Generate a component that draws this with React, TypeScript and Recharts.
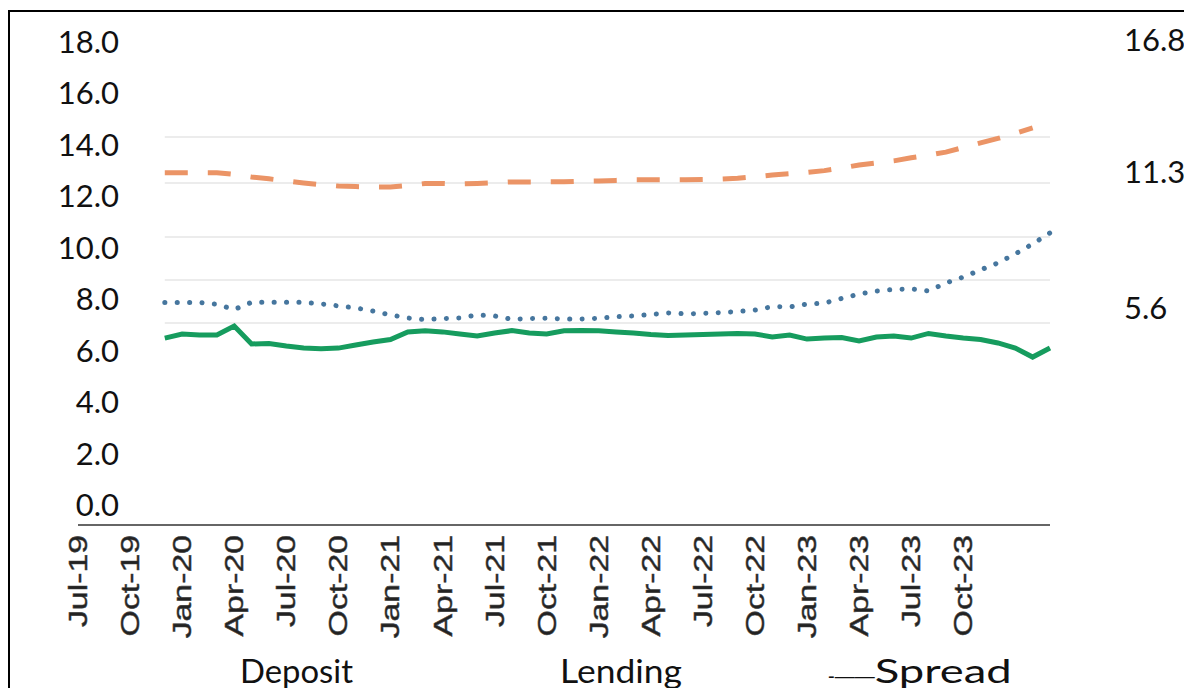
import { LineChart, Line, XAxis, YAxis, ReferenceLine } from 'recharts'

const months = [
  'Jul-19', 'Aug-19', 'Sep-19', 'Oct-19', 'Nov-19', 'Dec-19',
  'Jan-20', 'Feb-20', 'Mar-20', 'Apr-20', 'May-20', 'Jun-20', 'Jul-20', 'Aug-20', 'Sep-20', 'Oct-20', 'Nov-20', 'Dec-20',
  'Jan-21', 'Feb-21', 'Mar-21', 'Apr-21', 'May-21', 'Jun-21', 'Jul-21', 'Aug-21', 'Sep-21', 'Oct-21', 'Nov-21', 'Dec-21',
  'Jan-22', 'Feb-22', 'Mar-22', 'Apr-22', 'May-22', 'Jun-22', 'Jul-22', 'Aug-22', 'Sep-22', 'Oct-22', 'Nov-22', 'Dec-22',
  'Jan-23', 'Feb-23', 'Mar-23', 'Apr-23', 'May-23', 'Jun-23', 'Jul-23', 'Aug-23', 'Sep-23', 'Oct-23', 'Nov-23', 'Dec-23',
  'Jan-24', 'Feb-24', 'Mar-24',
]

// series start in Dec-19
const deposit = [
  null, null, null, null, null,
  7.87, 7.87, 7.87, 7.8, 7.6, 7.88, 7.88, 7.88, 7.88, 7.82,
  7.74, 7.66, 7.54, 7.39, 7.27, 7.21, 7.25, 7.27, 7.39, 7.35,
  7.22, 7.25, 7.26, 7.23, 7.23, 7.26, 7.32, 7.35, 7.41, 7.47,
  7.43, 7.45, 7.48, 7.52, 7.58, 7.71, 7.7, 7.81, 7.85, 8.03,
  8.2, 8.32, 8.38, 8.4, 8.32, 8.63, 8.86, 9.14, 9.41, 9.76,
  10.15, 10.58,
]

const lending = [
  null, null, null, null, null,
  12.92, 12.92, 12.92, 12.92, 12.85, 12.75, 12.68, 12.6, 12.52, 12.45,
  12.4, 12.38, 12.36, 12.36, 12.42, 12.5, 12.5, 12.48, 12.5, 12.53,
  12.56, 12.56, 12.56, 12.57, 12.59, 12.6, 12.62, 12.64, 12.64, 12.64,
  12.64, 12.65, 12.67, 12.7, 12.76, 12.83, 12.88, 12.93, 13.0, 13.1,
  13.22, 13.3, 13.38, 13.5, 13.6, 13.72, 13.9, 14.08, 14.25, 14.45,
  14.66, null,
]

const spread = [
  null, null, null, null, null,
  6.49, 6.65, 6.61, 6.61, 6.96, 6.26, 6.28, 6.18, 6.1, 6.07,
  6.1, 6.22, 6.34, 6.43, 6.73, 6.77, 6.73, 6.65, 6.57, 6.69,
  6.78, 6.69, 6.65, 6.77, 6.78, 6.77, 6.73, 6.69, 6.63, 6.59,
  6.61, 6.63, 6.65, 6.67, 6.65, 6.53, 6.61, 6.45, 6.49, 6.51,
  6.38, 6.53, 6.57, 6.49, 6.67, 6.57, 6.49, 6.43, 6.3, 6.1,
  5.75, 6.1,
]

const xTickLabels = [
  'Jul-19', 'Oct-19', 'Jan-20', 'Apr-20', 'Jul-20', 'Oct-20', 'Jan-21', 'Apr-21', 'Jul-21',
  'Oct-21', 'Jan-22', 'Apr-22', 'Jul-22', 'Oct-22', 'Jan-23', 'Apr-23', 'Jul-23', 'Oct-23',
]
const leftTicks = [0, 2, 4, 6, 8, 10, 12, 14, 16, 18]
const rightTicks = [5.6, 11.3, 16.8]
const gridLevels = [7.08, 8.75, 10.42, 12.52, 14.31]

const data = months.map((m, i) => ({
  i,
  month: m,
  deposit: deposit[i],
  lending: lending[i],
  spread: spread[i],
}))

const labelFont = 'Lato, "Open Sans", sans-serif'

function LeftTick({ y, payload }: any) {
  return (
    <text x={119} y={y} dy="0.355em" textAnchor="end" fontFamily={labelFont} fontSize={31} fill="#111">
      {Number(payload.value).toFixed(1)}
    </text>
  )
}

function RightTick({ y, payload }: any) {
  return (
    <text x={1124} y={y} dy="0.355em" textAnchor="start" fontFamily={labelFont} fontSize={31} fill="#111">
      {Number(payload.value).toFixed(1)}
    </text>
  )
}

function MonthTick({ x, payload }: any) {
  return (
    <g transform={`translate(${x},535)`}>
      <text
        transform="rotate(-90) scale(1.3,1)"
        textAnchor="end"
        dominantBaseline="central"
        fontFamily='"Liberation Sans", Arial, sans-serif'
        fontSize={26}
        fill="#222"
        stroke="#444"
        strokeWidth={0.5}
      >
        {months[payload.value]}
      </text>
    </g>
  )
}

function LegendRow() {
  return (
    <svg width={1184} height={688} style={{ position: 'absolute', left: 0, top: 0, pointerEvents: 'none' }}>
      <text x={240} y={683} fontFamily={labelFont} fontSize={33} fill="#111" textLength={113} lengthAdjust="spacingAndGlyphs">
        Deposit
      </text>
      <text x={560} y={683} fontFamily={labelFont} fontSize={33} fill="#111" textLength={122} lengthAdjust="spacingAndGlyphs">
        Lending
      </text>
      <text x={828} y={683} fontFamily={labelFont} fontSize={33} fill="#111">
        <tspan fontFamily='"Liberation Sans", Arial, sans-serif' fontSize={20}>-——</tspan>
        <tspan textLength={137} lengthAdjust="spacingAndGlyphs">Spread</tspan>
      </text>
    </svg>
  )
}

export default function App() {
  return (
    <div style={{ position: 'absolute', left: 0, top: 0, width: 1184, height: 688, overflow: 'hidden', background: '#fff' }}>
      <div
        style={{
          position: 'absolute',
          left: 8,
          top: 10,
          width: 1200,
          height: 700,
          borderTop: '2px solid #000',
          borderLeft: '2px solid #000',
        }}
      />
      <div style={{ position: 'absolute', left: 0, top: 0 }}>
        <LineChart width={1184} height={688} data={data} margin={{ top: 40, right: 133, bottom: 123, left: 77 }}>
          <XAxis
            dataKey="i"
            type="number"
            domain={[0, 56]}
            ticks={xTickLabels.map((l) => months.indexOf(l))}
            tick={<MonthTick />}
            tickLine={false}
            axisLine={{ stroke: '#666', strokeWidth: 2 }}
            interval={0}
            height={40}
          />
          <YAxis
            yAxisId="left"
            width={1}
            domain={[-0.778, 18.078]}
            ticks={leftTicks}
            tick={<LeftTick />}
            axisLine={false}
            tickLine={false}
            interval={0}
          />
          <YAxis
            yAxisId="right"
            orientation="right"
            width={1}
            domain={[-3.467, 16.8]}
            ticks={rightTicks}
            tick={<RightTick />}
            axisLine={false}
            tickLine={false}
            interval={0}
            allowDataOverflow
          />
          {gridLevels.map((g) => (
            <ReferenceLine
              key={g}
              yAxisId="left"
              segment={[{ x: 5, y: g }, { x: 56, y: g }]}
              stroke="#e6e6e6"
              strokeWidth={1.5}
            />
          ))}
          <Line
            yAxisId="left"
            type="linear"
            dataKey="lending"
            stroke="#eb9466"
            strokeWidth={5}
            strokeDasharray="23 20"
            dot={false}
            isAnimationActive={false}
          />
          <Line
            yAxisId="left"
            type="linear"
            dataKey="deposit"
            stroke="#46769e"
            strokeWidth={5}
            strokeDasharray="0.1 12.3"
            strokeLinecap="round"
            dot={false}
            isAnimationActive={false}
          />
          <Line
            yAxisId="left"
            type="linear"
            dataKey="spread"
            stroke="#169c5e"
            strokeWidth={5}
            dot={false}
            isAnimationActive={false}
          />
          {/* carries the right-hand scale, drawn invisibly */}
          <Line
            yAxisId="right"
            type="linear"
            dataKey="spread"
            stroke="none"
            dot={false}
            activeDot={false}
            legendType="none"
            isAnimationActive={false}
          />
        </LineChart>
      </div>
      <LegendRow />
    </div>
  )
}
